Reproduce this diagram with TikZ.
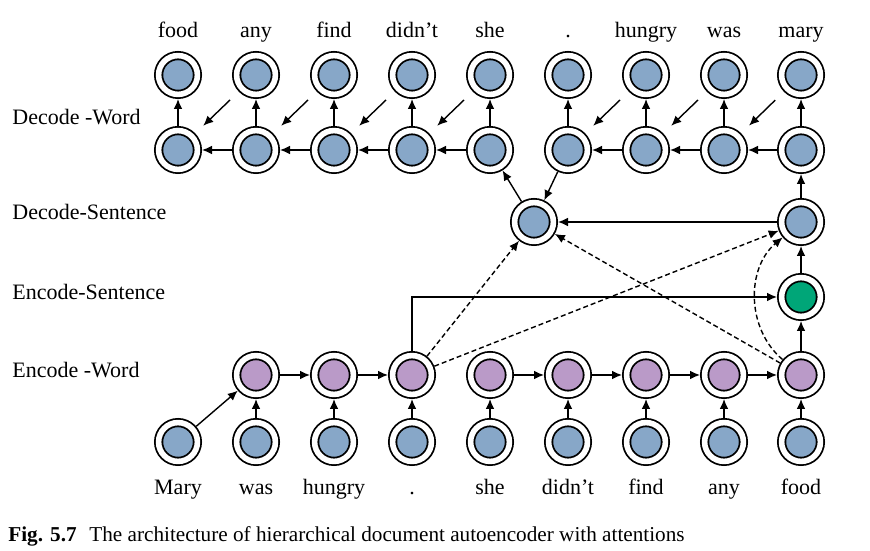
\documentclass[tikz,border=0pt]{standalone}
\usepackage{fontspec}
\setmainfont{Liberation Serif}
\usetikzlibrary{arrows.meta}
\definecolor{wordblue}{RGB}{135,167,200}
\definecolor{encpurple}{RGB}{186,154,200}
\definecolor{sentgreen}{RGB}{0,166,120}
\begin{document}
\begin{tikzpicture}[x=0.5pt,y=0.5pt,
    unit/.style={circle,draw,line width=0.9pt,double=white,double distance=2.8pt,
      minimum size=19.4pt,inner sep=0pt,outer sep=2.3pt,fill=wordblue},
    enc/.style={unit,fill=encpurple},
    sent/.style={unit,fill=sentgreen},
    link/.style={-{Latex[length=5pt,width=4.4pt]},line width=0.7pt},
    attn/.style={link,dash pattern=on 2.5pt off 1.5pt},
    word/.style={anchor=base,inner sep=0pt,font=\fontsize{11}{13}\selectfont},
    layer/.style={anchor=west,inner sep=0pt,font=\fontsize{11}{13}\selectfont}]
    \useasboundingbox (0,0) rectangle (870,550);
    \foreach \x/\w [count=\i] in {178/Mary,256/was,334/hungry,412/.,490/she,568/didn't,646/find,724/any,801/food} {
        \node[unit] (in\i) at (\x,108) {};
        \node[word] (inw\i) at (\x,55) {\w};
    }
    \foreach \x/\w [count=\i] in {178/food,256/any,334/find,412/didn't,490/she,568/.,646/hungry,724/was,801/mary} {
        \node[unit] (dec\i) at (\x,400) {};
        \node[unit] (out\i) at (\x,475) {};
        \node[word] (outw\i) at (\x,512) {\w};
    }
    \foreach \x [count=\i from 2] in {256,334,412,490,568,646,724,801}
        \node[enc] (enc\i) at (\x,175) {};
    \node[sent] (es) at (801,253) {};
    \node[unit] (dsL) at (534,328) {};
    \node[unit] (dsR) at (801,328) {};
    \node[layer] (ldw) at (12,433) {Decode -Word};
    \node[layer] (lds) at (12,338) {Decode-Sentence};
    \node[layer] (les) at (12,258) {Encode-Sentence};
    \node[layer] (lew) at (12,180) {Encode -Word};
    \foreach \i in {1,...,9}
        \draw[link] (dec\i) -- (out\i);
    \foreach \i/\j in {2/1,3/2,4/3,5/4,7/6,8/7,9/8} {
        \draw[link] (dec\i) -- (dec\j);
        \draw[link,shorten <=6pt,shorten >=5.5pt] (out\i) -- (dec\j);
    }
    \foreach \i in {2,...,9}
        \draw[link] (in\i) -- (enc\i);
    \draw[link] (in1) -- (enc2);
    \foreach \i/\j in {2/3,3/4,5/6,6/7,7/8,8/9}
        \draw[link] (enc\i) -- (enc\j);
    \draw[link] (enc4) |- (es);
    \draw[link] (enc9) -- (es);
    \draw[link] (es) -- (dsR);
    \draw[link] (dsR) -- (dec9);
    \draw[link] (dsR) -- (dsL);
    \draw[link] (dec6) -- (dsL);
    \draw[link] (dsL) -- (dec5);
    \draw[attn] (enc4) -- (dsL);
    \draw[attn] (enc4) -- (dsR);
    \draw[attn] (enc9) -- (dsL);
    \draw[attn] (enc9) to[bend left=50] (dsR);
    \node[anchor=base west,inner sep=0pt,font=\fontsize{10.6}{12}\selectfont] (cap) at (8,9)
        {\textbf{Fig. 5.7}\hspace{0.6em}The architecture of hierarchical document autoencoder with attentions};
\end{tikzpicture}
\end{document}
